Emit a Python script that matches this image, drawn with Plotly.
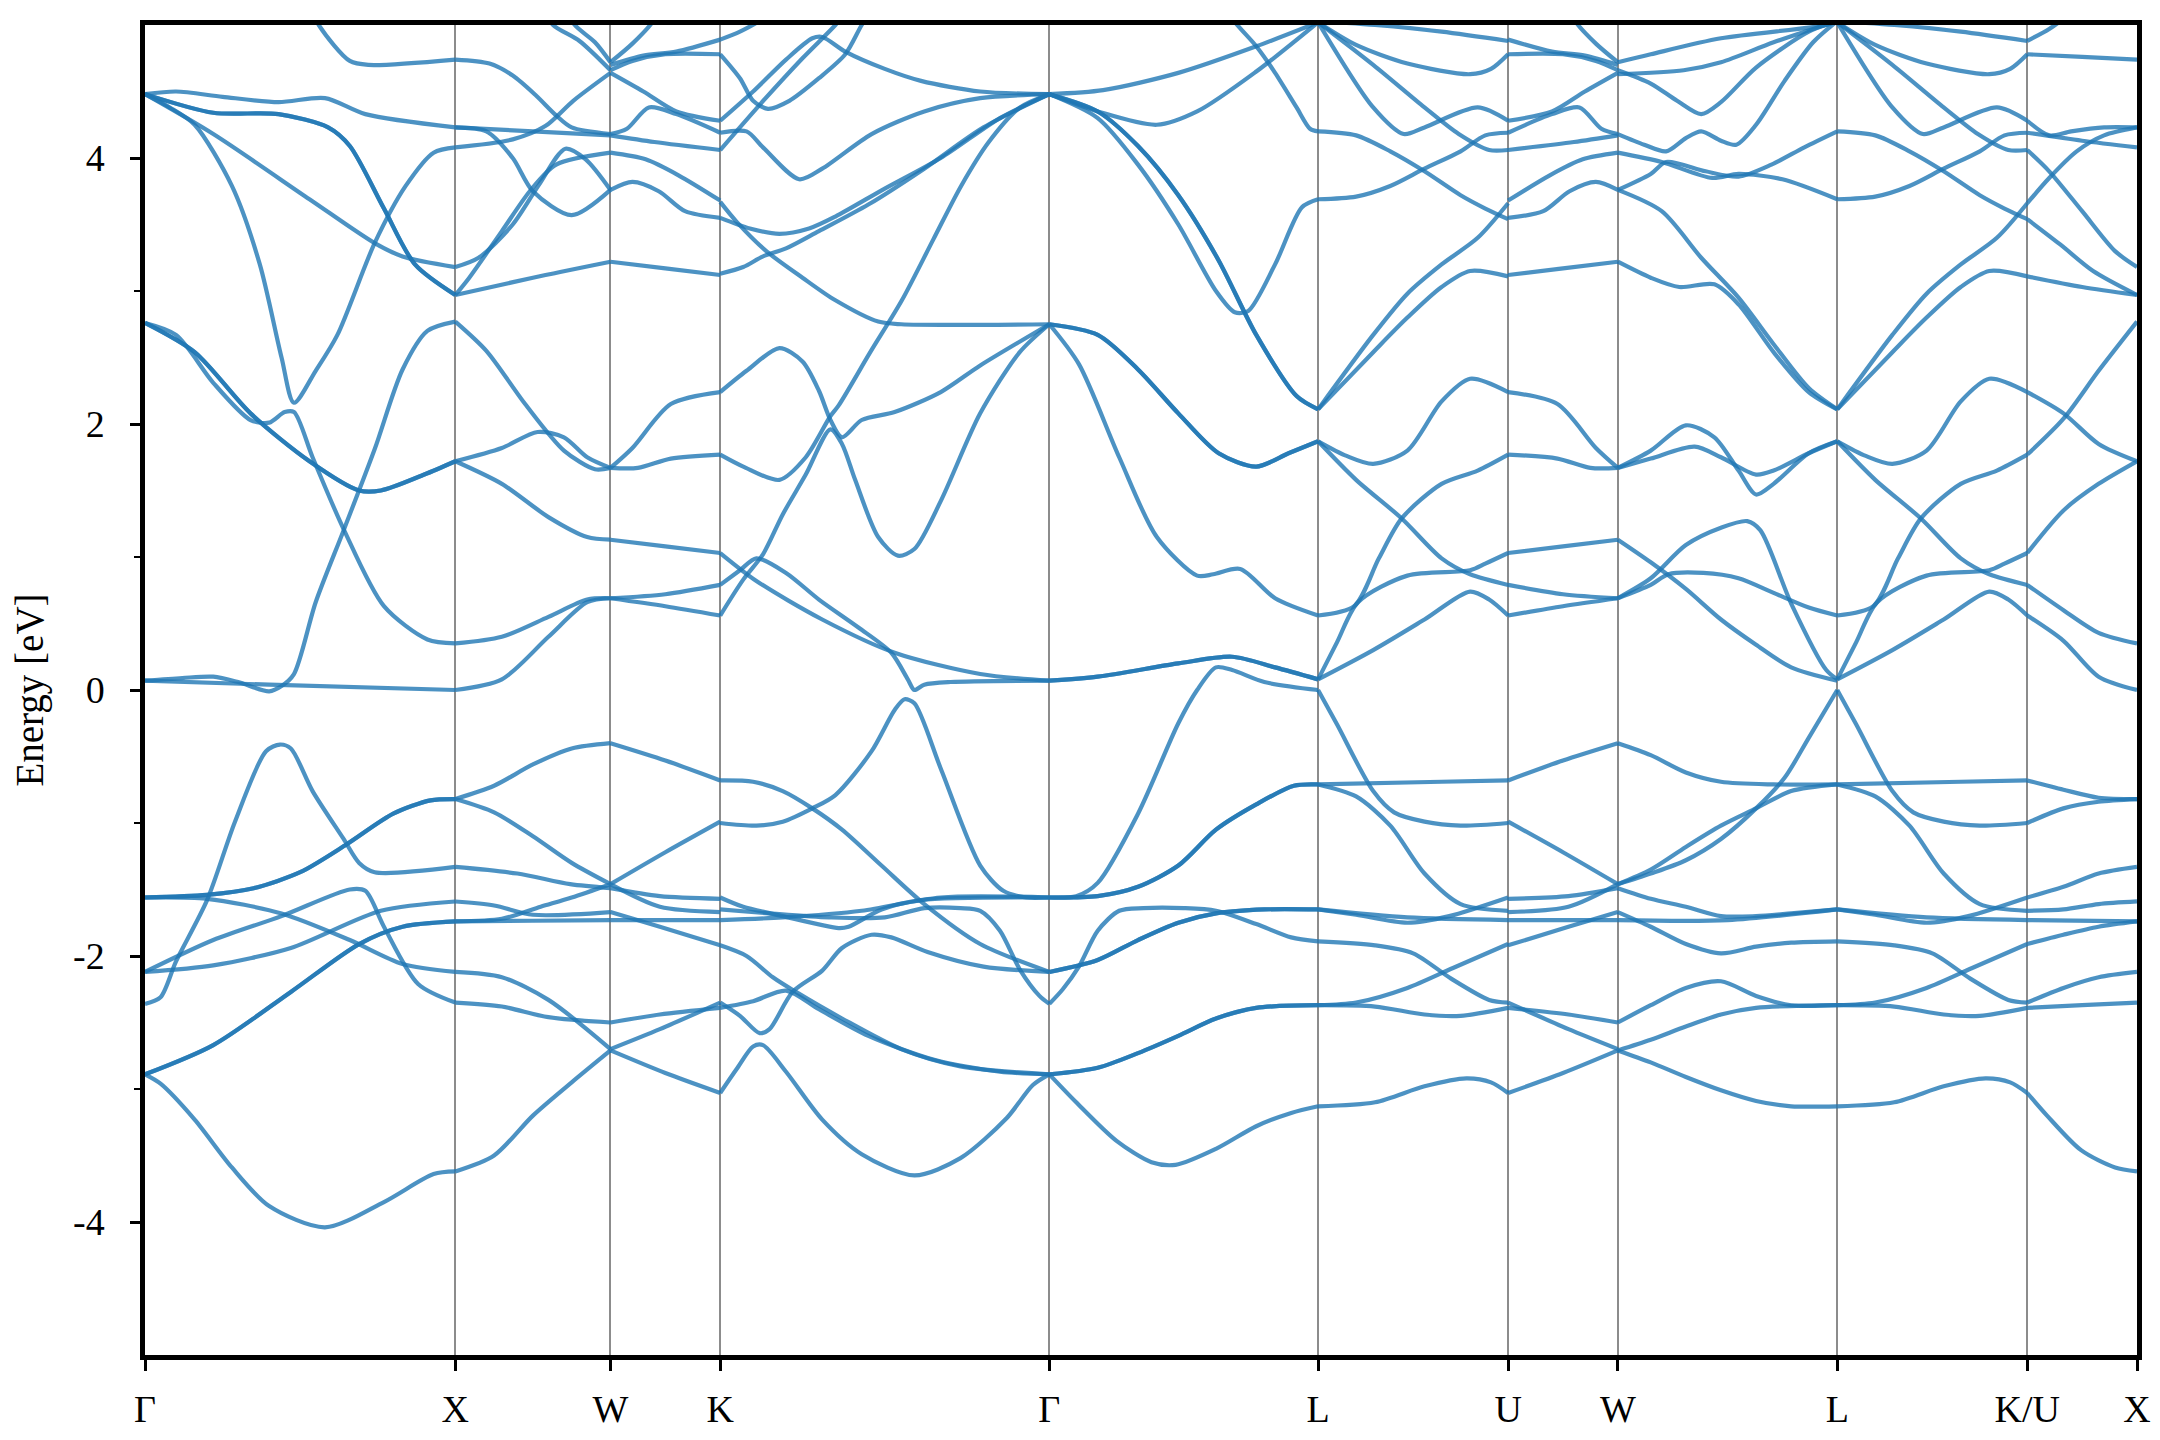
import plotly.graph_objects as go

# ---------------- data ----------------
kpoint_labels = ["Γ", "X", "W", "K", "Γ", "L", "U", "W", "L", "K/U", "X"]
segment_lengths = [1.0, 0.5, 0.35355, 1.06066, 0.86603, 0.61237, 0.35355, 0.70711, 0.61237, 0.35355]
energy_ticks = [-4, -2, 0, 2, 4]
energy_minor_ticks = [-3, -1, 1, 3]

# each entry: (degeneracy, [(fraction along segment, energy eV), ...])
band_GX = [
    (1, [(0.5, 5.3), (0.56, 5.0), (0.66, 4.73), (0.72, 4.70), (1, 4.74)]),
    (1, [(0, 4.48), (0.1, 4.50), (0.25, 4.46), (0.43, 4.42), (0.58, 4.45), (0.71, 4.33), (1, 4.23)]),
    (2, [(0, 4.48), (0.22, 4.34), (0.43, 4.33), (0.59, 4.23), (0.66, 4.09), (0.77, 3.62), (0.87, 3.20), (1, 2.97)]),
    (1, [(0, 4.48), (0.22, 4.18), (0.53, 3.69), (0.74, 3.36), (0.83, 3.26), (1, 3.18)]),
    (1, [(0, 4.48), (0.08, 4.38), (0.16, 4.25), (0.28, 3.79), (0.37, 3.2), (0.44, 2.5), (0.48, 2.16),
         (0.55, 2.4), (0.62, 2.67), (0.74, 3.36), (0.84, 3.79), (0.93, 4.04), (1, 4.08)]),
    (1, [(0, 2.76), (0.1, 2.67), (0.22, 2.31), (0.34, 2.03), (0.4, 2.01), (0.45, 2.09), (0.48, 2.09),
         (0.54, 1.75), (0.64, 1.21), (0.77, 0.63), (0.91, 0.38), (1, 0.35)]),
    (2, [(0, 2.76), (0.16, 2.54), (0.34, 2.08), (0.53, 1.72), (0.69, 1.50), (0.76, 1.50), (0.9, 1.62), (1, 1.72)]),
    (1, [(0, 0.07), (0.12, 0.09), (0.22, 0.1), (0.3, 0.06), (0.4, -0.01), (0.44, 0.03), (0.48, 0.12),
         (0.55, 0.66), (0.64, 1.2), (0.74, 1.81), (0.83, 2.41), (0.91, 2.70), (1, 2.77)]),
    (1, [(0, 0.07), (0.4, 0.04), (1, 0.0)]),
    (1, [(0, -2.89), (0.05, -2.96), (0.16, -3.23), (0.28, -3.59), (0.4, -3.88), (0.58, -4.04),
         (0.77, -3.85), (0.93, -3.64), (1, -3.62)]),
    (2, [(0, -2.89), (0.22, -2.67), (0.47, -2.27), (0.69, -1.91), (0.83, -1.78), (1, -1.74)]),
    (1, [(0, -2.36), (0.05, -2.31), (0.1, -2.04), (0.2, -1.58), (0.29, -0.99), (0.39, -0.46), (0.435, -0.41),
         (0.47, -0.44), (0.54, -0.76), (0.64, -1.12), (0.69, -1.30), (0.74, -1.37), (1, -1.33)]),
    (2, [(0, -1.56), (0.2, -1.54), (0.35, -1.49), (0.5, -1.37), (0.65, -1.16), (0.8, -0.93), (0.92, -0.83), (1, -0.82)]),
    (1, [(0, -1.56), (0.2, -1.57), (0.44, -1.68), (0.66, -1.88), (0.83, -2.06), (1, -2.12)]),
    (1, [(0, -2.12), (0.22, -1.88), (0.44, -1.70), (0.66, -1.50), (0.71, -1.51), (0.77, -1.78), (0.88, -2.21), (1, -2.35)]),
    (1, [(0, -2.12), (0.22, -2.07), (0.47, -1.94), (0.76, -1.66), (1, -1.59)]),
]

band_XW = [
    (1, [(0, 4.74), (0.22, 4.71), (0.37, 4.62), (0.52, 4.47), (0.65, 4.32), (0.75, 4.23), (1, 4.18)]),
    (1, [(0, 4.08), (0.37, 4.14), (0.58, 4.24), (0.76, 4.43), (1, 4.64)]),
    (1, [(0, 4.23), (0.5, 4.2), (1, 4.17)]),
    (1, [(0, 4.23), (0.2, 4.2), (0.37, 4.0), (0.5, 3.75), (0.75, 3.57), (1, 3.76)]),
    (1, [(0, 3.18), (0.15, 3.25), (0.37, 3.5), (0.54, 3.8), (0.71, 4.07), (0.84, 3.99), (1, 3.76)]),
    (1, [(0, 2.97), (0.09, 3.1), (0.3, 3.45), (0.48, 3.75), (0.65, 3.95), (1, 4.04)]),
    (1, [(0, 2.97), (0.5, 3.1), (1, 3.22)]),
    (1, [(0, 2.77), (0.2, 2.55), (0.45, 2.15), (0.7, 1.8), (0.9, 1.66), (1, 1.67)]),
    (1, [(0, 1.72), (0.3, 1.82), (0.53, 1.94), (0.7, 1.9), (0.85, 1.75), (1, 1.67)]),
    (1, [(0, 1.72), (0.3, 1.55), (0.6, 1.3), (0.85, 1.15), (1, 1.13)]),
    (1, [(0, 0.35), (0.3, 0.4), (0.6, 0.55), (0.85, 0.68), (1, 0.69)]),
    (1, [(0, 0.0), (0.3, 0.08), (0.6, 0.4), (0.85, 0.66), (1, 0.69)]),
    (1, [(0.55, 5.15), (0.63, 5.0), (0.8, 4.88), (1, 4.66)]),
    (1, [(0.7, 5.15), (0.77, 5.0), (0.9, 4.87), (1, 4.72)]),
    (1, [(0, -0.82), (0.25, -0.72), (0.5, -0.56), (0.75, -0.44), (1, -0.40)]),
    (1, [(0, -0.82), (0.25, -0.92), (0.5, -1.1), (0.75, -1.3), (1, -1.46)]),
    (1, [(0, -1.33), (0.4, -1.38), (0.74, -1.46), (1, -1.49)]),
    (1, [(0, -1.74), (0.3, -1.72), (0.55, -1.63), (0.75, -1.56), (1, -1.46)]),
    (1, [(0, -1.74), (0.5, -1.735), (1, -1.73)]),
    (1, [(0, -1.59), (0.25, -1.62), (0.5, -1.69), (1, -1.67)]),
    (1, [(0, -2.12), (0.3, -2.16), (0.6, -2.33), (1, -2.70)]),
    (1, [(0, -2.35), (0.3, -2.38), (0.6, -2.46), (1, -2.50)]),
    (1, [(0, -3.62), (0.25, -3.5), (0.5, -3.2), (0.75, -2.95), (1, -2.71)]),
]

band_WK = [
    (1, [(0, 4.72), (0.2, 4.86), (0.38, 5.02), (0.45, 5.15)]),
    (1, [(0, 4.70), (0.3, 4.77), (0.6, 4.8), (1, 4.89)]),
    (1, [(0, 4.66), (0.2, 4.73), (0.5, 4.78), (1, 4.78)]),
    (1, [(0, 4.64), (0.3, 4.5), (0.6, 4.35), (1, 4.28)]),
    (1, [(0, 4.18), (0.15, 4.22), (0.35, 4.38), (0.6, 4.33), (1, 4.19)]),
    (1, [(0, 4.17), (0.4, 4.12), (1, 4.06)]),
    (1, [(0, 4.04), (0.32, 3.99), (0.62, 3.87), (1, 3.68)]),
    (1, [(0, 3.76), (0.2, 3.82), (0.44, 3.75), (0.68, 3.6), (1, 3.55)]),
    (1, [(0, 3.22), (0.5, 3.17), (1, 3.12)]),
    (1, [(0, 1.67), (0.2, 1.82), (0.55, 2.15), (1, 2.24)]),
    (1, [(0, 1.67), (0.25, 1.67), (0.55, 1.74), (1, 1.77)]),
    (1, [(0, 1.13), (0.5, 1.08), (1, 1.03)]),
    (1, [(0, 0.69), (0.5, 0.72), (1, 0.79)]),
    (1, [(0, 0.69), (0.5, 0.63), (1, 0.56)]),
    (1, [(0, -0.40), (0.5, -0.53), (1, -0.68)]),
    (1, [(0, -1.46), (0.5, -1.22), (1, -0.99)]),
    (1, [(0, -1.46), (0.45, -1.63), (1, -1.67)]),
    (1, [(0, -1.49), (0.45, -1.55), (1, -1.57)]),
    (1, [(0, -1.73), (1, -1.73)]),
    (1, [(0, -1.67), (0.45, -1.78), (1, -1.92)]),
    (1, [(0, -2.50), (0.45, -2.44), (1, -2.39)]),
    (1, [(0, -2.70), (0.45, -2.55), (1, -2.35)]),
    (1, [(0, -2.71), (0.5, -2.88), (1, -3.03)]),
]

band_KG = [
    (1, [(0, 4.89), (0.06, 4.95), (0.12, 5.03), (0.2, 5.15)]),
    (1, [(0, 4.78), (0.06, 4.6), (0.1, 4.43), (0.145, 4.37), (0.21, 4.43), (0.3, 4.6), (0.38, 4.78), (0.43, 5.0), (0.47, 5.15)]),
    (1, [(0, 4.28), (0.1, 4.5), (0.2, 4.74), (0.28, 4.9), (0.31, 4.91), (0.38, 4.8), (0.5, 4.67), (0.61, 4.58), (0.79, 4.5), (1, 4.48)]),
    (1, [(0, 4.19), (0.08, 4.2), (0.13, 4.08), (0.24, 3.84), (0.31, 3.92), (0.46, 4.18), (0.62, 4.35), (0.79, 4.45), (1, 4.48)]),
    (1, [(0, 4.06), (0.12, 4.4), (0.25, 4.75), (0.35, 5.0), (0.4, 5.15)]),
    (1, [(0, 3.67), (0.05, 3.52), (0.14, 3.3), (0.25, 3.1), (0.35, 2.93), (0.48, 2.77), (0.55, 2.75), (1, 2.75)]),
    (1, [(0, 3.55), (0.09, 3.47), (0.18, 3.43), (0.27, 3.47), (0.35, 3.56), (0.5, 3.77), (0.67, 4.0), (0.85, 4.3), (1, 4.48)]),
    (1, [(0, 3.13), (0.07, 3.18), (0.13, 3.26), (0.2, 3.32), (0.3, 3.45), (0.45, 3.65), (0.62, 3.92), (0.8, 4.23), (1, 4.48)]),
    (1, [(0, 2.24), (0.08, 2.4), (0.18, 2.57), (0.25, 2.47), (0.3, 2.25), (0.335, 2.03), (0.37, 1.9), (0.43, 2.03),
         (0.53, 2.09), (0.67, 2.24), (0.79, 2.44), (1, 2.75)]),
    (1, [(0, 1.77), (0.07, 1.68), (0.18, 1.58), (0.26, 1.75), (0.335, 2.06), (0.36, 2.14), (0.456, 2.54), (0.552, 2.93),
         (0.648, 3.39), (0.732, 3.79), (0.816, 4.12), (0.911, 4.38), (1, 4.48)]),
    (1, [(0, 0.56), (0.07, 0.83), (0.13, 1.02), (0.19, 1.32), (0.26, 1.62), (0.335, 1.96), (0.37, 1.85), (0.41, 1.58),
         (0.48, 1.15), (0.54, 1.01), (0.59, 1.06), (0.67, 1.42), (0.79, 2.08), (0.91, 2.54), (1, 2.75)]),
    (1, [(0, 1.03), (0.11, 0.82), (0.31, 0.53), (0.53, 0.28), (0.79, 0.12), (1, 0.07)]),
    (1, [(0, 0.79), (0.06, 0.9), (0.11, 0.99), (0.2, 0.88), (0.3, 0.68), (0.42, 0.47), (0.52, 0.28), (0.57, 0.08),
         (0.59, 0.0), (0.62, 0.04), (0.7, 0.06), (1, 0.07)]),
    (1, [(0, -0.68), (0.1, -0.69), (0.19, -0.76), (0.28, -0.89), (0.37, -1.05), (0.49, -1.32), (0.62, -1.61), (0.79, -1.91), (1, -2.12)]),
    (1, [(0, -1.0), (0.11, -1.02), (0.19, -0.99), (0.28, -0.89), (0.35, -0.79), (0.46, -0.46), (0.53, -0.15), (0.56, -0.07),
         (0.59, -0.10), (0.67, -0.59), (0.79, -1.32), (0.86, -1.51), (0.93, -1.56), (1, -1.56)]),
    (1, [(0, -1.56), (0.07, -1.63), (0.19, -1.70), (0.36, -1.79), (0.39, -1.78), (0.49, -1.65), (0.61, -1.58), (1, -1.56)]),
    (1, [(0, -1.65), (0.15, -1.68), (0.33, -1.71), (0.5, -1.71), (0.62, -1.64), (0.73, -1.64), (0.79, -1.66), (0.85, -1.81),
         (0.91, -2.1), (0.97, -2.3), (1, -2.36)]),
    (1, [(0, -1.73), (0.19, -1.71), (0.43, -1.66), (0.67, -1.56), (1, -1.56)]),
    (1, [(0, -1.92), (0.08, -2.0), (0.16, -2.16), (0.23, -2.27), (0.37, -2.47), (0.55, -2.70), (0.73, -2.83), (1, -2.89)]),
    (1, [(0, -2.39), (0.1, -2.34), (0.2, -2.26), (0.3, -2.4), (0.45, -2.6), (0.65, -2.78), (0.85, -2.87), (1, -2.89)]),
    (1, [(0, -2.35), (0.06, -2.45), (0.12, -2.58), (0.15, -2.55), (0.22, -2.27), (0.31, -2.11), (0.37, -1.94), (0.46, -1.84),
         (0.52, -1.86), (0.63, -1.97), (0.8, -2.08), (1, -2.12)]),
    (1, [(0, -3.03), (0.05, -2.85), (0.1, -2.68), (0.13, -2.67), (0.2, -2.87), (0.31, -3.23), (0.43, -3.49), (0.59, -3.65),
         (0.73, -3.52), (0.87, -3.22), (0.95, -2.97), (1, -2.89)]),
]

band_GL = [
    (1, [(0, 4.48), (0.2, 4.51), (0.48, 4.64), (0.77, 4.84), (1, 5.02)]),
    (1, [(0, 4.48), (0.18, 4.35), (0.4, 4.25), (0.55, 4.35), (0.77, 4.65), (1, 5.02)]),
    (2, [(0, 4.48), (0.18, 4.35), (0.33, 4.09), (0.48, 3.72), (0.63, 3.23), (0.77, 2.67), (0.92, 2.21), (1, 2.11)]),
    (1, [(0, 4.48), (0.18, 4.3), (0.33, 3.95), (0.48, 3.5), (0.62, 3.0), (0.69, 2.84), (0.74, 2.85), (0.84, 3.2), (0.94, 3.63), (1, 3.69)]),
    (1, [(0.66, 5.15), (0.68, 5.05), (0.77, 4.84), (0.84, 4.64), (0.92, 4.38), (0.97, 4.22), (1, 4.2)]),
    (2, [(0, 2.75), (0.18, 2.67), (0.33, 2.41), (0.48, 2.08), (0.63, 1.78), (0.77, 1.68), (0.89, 1.78), (1, 1.87)]),
    (1, [(0, 2.75), (0.11, 2.45), (0.26, 1.75), (0.4, 1.15), (0.55, 0.86), (0.61, 0.87), (0.71, 0.91), (0.84, 0.69), (1, 0.56)]),
    (2, [(0, 0.07), (0.18, 0.1), (0.48, 0.2), (0.68, 0.25), (0.84, 0.17), (1, 0.08)]),
    (1, [(0, -1.56), (0.1, -1.55), (0.18, -1.45), (0.33, -0.93), (0.48, -0.25), (0.55, 0.0), (0.62, 0.17), (0.68, 0.15), (0.8, 0.06), (1, 0.0)]),
    (2, [(0, -1.56), (0.18, -1.55), (0.33, -1.48), (0.48, -1.32), (0.62, -1.05), (0.77, -0.86), (0.91, -0.72), (1, -0.71)]),
    (1, [(0, -2.36), (0.05, -2.25), (0.11, -2.08), (0.18, -1.81), (0.26, -1.66), (0.35, -1.64), (0.5, -1.64), (0.62, -1.66),
         (0.77, -1.76), (0.9, -1.86), (1, -1.89)]),
    (2, [(0, -2.12), (0.18, -2.03), (0.33, -1.88), (0.48, -1.75), (0.62, -1.68), (0.8, -1.65), (1, -1.65)]),
    (2, [(0, -2.89), (0.18, -2.84), (0.33, -2.73), (0.48, -2.6), (0.62, -2.47), (0.77, -2.39), (1, -2.37)]),
    (1, [(0, -2.89), (0.1, -3.1), (0.25, -3.39), (0.38, -3.55), (0.47, -3.57), (0.62, -3.45), (0.77, -3.28), (0.9, -3.18), (1, -3.13)]),
]

band_LU = [
    (1, [(0, 5.03), (0.3, 5.0), (0.65, 4.95), (1, 4.88)]),
    (1, [(0, 5.02), (0.2, 4.85), (0.47, 4.71), (0.8, 4.63), (0.91, 4.67), (1, 4.78)]),
    (1, [(0, 5.02), (0.29, 4.7), (0.56, 4.38), (0.74, 4.18), (0.9, 4.06), (1, 4.06)]),
    (1, [(0, 5.02), (0.29, 4.38), (0.45, 4.18), (0.56, 4.23), (0.84, 4.38), (1, 4.28)]),
    (1, [(0, 4.2), (0.2, 4.17), (0.38, 4.05), (0.56, 3.9), (0.75, 3.72), (0.88, 3.62), (1, 3.54)]),
    (1, [(0, 3.69), (0.2, 3.71), (0.38, 3.79), (0.56, 3.92), (0.75, 4.05), (0.88, 4.17), (1, 4.19)]),
    (1, [(0, 2.11), (0.29, 2.67), (0.47, 2.98), (0.65, 3.2), (0.84, 3.4), (1, 3.66)]),
    (1, [(0, 2.11), (0.29, 2.54), (0.47, 2.8), (0.65, 3.03), (0.8, 3.15), (1, 3.11)]),
    (1, [(0, 1.87), (0.15, 1.76), (0.29, 1.70), (0.47, 1.80), (0.65, 2.17), (0.8, 2.34), (1, 2.24)]),
    (1, [(0, 1.87), (0.2, 1.58), (0.44, 1.29), (0.65, 0.99), (0.8, 0.87), (1, 0.79)]),
    (1, [(0, 0.56), (0.19, 0.63), (0.32, 0.99), (0.44, 1.29), (0.65, 1.55), (0.84, 1.65), (1, 1.77)]),
    (1, [(0, 0.08), (0.1, 0.36), (0.21, 0.66), (0.47, 0.86), (0.8, 0.9), (0.88, 0.95), (1, 1.03)]),
    (1, [(0, 0.08), (0.29, 0.3), (0.56, 0.53), (0.8, 0.74), (0.9, 0.68), (1, 0.56)]),
    (1, [(0, 0.0), (0.1, -0.26), (0.29, -0.76), (0.4, -0.92), (0.56, -0.99), (0.75, -1.02), (1, -1.0)]),
    (1, [(0, -0.71), (0.65, -0.69), (1, -0.68)]),
    (1, [(0, -0.71), (0.2, -0.8), (0.38, -1.02), (0.56, -1.38), (0.75, -1.61), (1, -1.66)]),
    (1, [(0, -1.65), (0.2, -1.69), (0.47, -1.75), (0.69, -1.70), (1, -1.56)]),
    (1, [(0, -1.65), (0.47, -1.71), (1, -1.73)]),
    (1, [(0, -1.89), (0.3, -1.92), (0.5, -1.98), (0.7, -2.17), (0.9, -2.33), (1, -2.35)]),
    (1, [(0, -2.37), (0.3, -2.38), (0.56, -2.44), (0.75, -2.45), (1, -2.39)]),
    (1, [(0, -2.37), (0.2, -2.35), (0.47, -2.24), (0.71, -2.09), (1, -1.91)]),
    (1, [(0, -3.13), (0.3, -3.1), (0.56, -2.98), (0.78, -2.92), (0.91, -2.95), (1, -3.03)]),
]

band_WL = [
    (1, [(0, 4.72), (0.15, 4.78), (0.47, 4.9), (0.95, 5.0), (1, 5.03)]),
    (1, [(0, 4.63), (0.3, 4.66), (0.47, 4.72), (0.71, 4.87), (1, 5.03)]),
    (1, [(0, 4.66), (0.15, 4.56), (0.27, 4.43), (0.38, 4.33), (0.47, 4.42), (0.63, 4.68), (0.87, 4.95), (1, 5.03)]),
    (1, [(0, 4.18), (0.12, 4.1), (0.22, 4.05), (0.31, 4.15), (0.38, 4.2), (0.47, 4.13), (0.54, 4.1), (0.63, 4.25),
         (0.76, 4.58), (0.89, 4.87), (1, 5.03)]),
    (1, [(0, 4.04), (0.2, 3.97), (0.43, 3.85), (0.55, 3.88), (0.75, 3.84), (1, 3.69)]),
    (1, [(0, 3.76), (0.15, 3.88), (0.22, 3.97), (0.4, 3.9), (0.55, 3.86), (0.7, 3.95), (0.85, 4.08), (1, 4.2)]),
    (1, [(0, 3.22), (0.15, 3.1), (0.28, 3.03), (0.44, 3.05), (0.55, 2.9), (0.71, 2.54), (0.87, 2.24), (1, 2.11)]),
    (1, [(0, 3.76), (0.2, 3.6), (0.38, 3.25), (0.55, 2.95), (0.71, 2.6), (0.87, 2.27), (1, 2.11)]),
    (1, [(0, 1.67), (0.15, 1.8), (0.31, 1.99), (0.44, 1.9), (0.55, 1.65), (0.63, 1.47), (0.71, 1.55), (0.87, 1.78), (1, 1.87)]),
    (1, [(0, 1.67), (0.15, 1.74), (0.35, 1.83), (0.47, 1.75), (0.63, 1.62), (0.71, 1.65), (0.87, 1.78), (1, 1.87)]),
    (1, [(0, 0.69), (0.15, 0.84), (0.31, 1.09), (0.47, 1.22), (0.59, 1.27), (0.65, 1.2), (0.79, 0.65), (0.95, 0.15), (1, 0.08)]),
    (1, [(0, 0.69), (0.15, 0.79), (0.23, 0.87), (0.39, 0.88), (0.55, 0.84), (0.71, 0.73), (0.87, 0.62), (1, 0.56)]),
    (1, [(0, 1.13), (0.15, 0.96), (0.31, 0.76), (0.47, 0.53), (0.63, 0.34), (0.79, 0.17), (1, 0.07)]),
    (1, [(0, -1.46), (0.15, -1.38), (0.31, -1.28), (0.47, -1.12), (0.63, -0.89), (0.76, -0.66), (0.87, -0.36), (1, 0.0)]),
    (1, [(0, -0.40), (0.15, -0.49), (0.31, -0.62), (0.47, -0.69), (0.71, -0.71), (1, -0.71)]),
    (1, [(0, -1.46), (0.15, -1.35), (0.31, -1.18), (0.47, -1.02), (0.63, -0.89), (0.79, -0.76), (1, -0.71)]),
    (1, [(0, -1.49), (0.15, -1.57), (0.31, -1.63), (0.47, -1.7), (0.63, -1.7), (0.79, -1.68), (1, -1.65)]),
    (1, [(0, -1.73), (0.5, -1.73), (1, -1.65)]),
    (1, [(0, -1.67), (0.15, -1.78), (0.31, -1.91), (0.47, -1.98), (0.63, -1.93), (0.79, -1.9), (1, -1.89)]),
    (1, [(0, -2.50), (0.15, -2.37), (0.31, -2.24), (0.47, -2.19), (0.63, -2.3), (0.79, -2.37), (1, -2.37)]),
    (1, [(0, -2.71), (0.15, -2.63), (0.31, -2.53), (0.47, -2.44), (0.63, -2.39), (1, -2.37)]),
    (1, [(0, -2.71), (0.15, -2.8), (0.31, -2.91), (0.47, -3.01), (0.63, -3.09), (0.79, -3.13), (1, -3.13)]),
]

band_UX = [
    (1, [(0, 4.88), (0.2, 4.97), (0.3, 5.03), (0.4, 5.12)]),
    (1, [(0, 4.78), (0.5, 4.76), (1, 4.74)]),
    (1, [(0, 4.28), (0.2, 4.17), (0.4, 4.2), (0.7, 4.23), (1, 4.23)]),
    (1, [(0, 4.19), (0.5, 4.13), (1, 4.08)]),
    (1, [(0, 3.66), (0.2, 3.85), (0.45, 4.05), (0.7, 4.17), (1, 4.23)]),
    (1, [(0, 4.06), (0.2, 3.9), (0.5, 3.6), (0.8, 3.3), (1, 3.18)]),
    (1, [(0, 3.54), (0.3, 3.35), (0.6, 3.15), (1, 2.97)]),
    (1, [(0, 3.11), (0.5, 3.03), (1, 2.97)]),
    (1, [(0, 2.24), (0.33, 2.08), (0.65, 1.85), (1, 1.72)]),
    (1, [(0, 1.77), (0.33, 2.04), (0.65, 2.4), (1, 2.77)]),
    (1, [(0, 1.03), (0.33, 1.35), (0.65, 1.55), (1, 1.72)]),
    (1, [(0, 0.79), (0.33, 0.6), (0.65, 0.43), (1, 0.35)]),
    (1, [(0, 0.56), (0.33, 0.37), (0.65, 0.1), (1, 0.0)]),
    (1, [(0, -0.68), (0.33, -0.75), (0.65, -0.81), (1, -0.82)]),
    (1, [(0, -1.0), (0.33, -0.89), (0.65, -0.84), (1, -0.82)]),
    (1, [(0, -1.56), (0.33, -1.48), (0.65, -1.38), (1, -1.33)]),
    (1, [(0, -1.66), (0.33, -1.65), (0.65, -1.61), (1, -1.59)]),
    (1, [(0, -1.73), (1, -1.74)]),
    (1, [(0, -1.91), (0.33, -1.84), (0.65, -1.78), (1, -1.74)]),
    (1, [(0, -2.35), (0.33, -2.24), (0.65, -2.16), (1, -2.12)]),
    (1, [(0, -2.39), (0.5, -2.37), (1, -2.35)]),
    (1, [(0, -3.03), (0.18, -3.2), (0.49, -3.46), (0.8, -3.59), (1, -3.62)]),
]


def reversed_segment(seg):
    return [(m, [(1 - f, e) for f, e in reversed(pts)]) for m, pts in seg]


# U-W is symmetry-equivalent to W-K (traversed backwards); L-K is equivalent to L-U
segments = [band_GX, band_XW, band_WK, band_KG, band_GL, band_LU,
            reversed_segment(band_WK), band_WL, band_LU, band_UX]

kpos = [0.0]
for length in segment_lengths:
    kpos.append(kpos[-1] + length)

# ---------------- figure ----------------
fig = go.Figure()
line_style = dict(color="rgba(31,119,180,0.8)", width=4.2, shape="spline", smoothing=0.8)
for s, seg in enumerate(segments):
    k0, length = kpos[s], segment_lengths[s]
    for mult, pts in seg:
        xs = [k0 + f * length for f, e in pts]
        ys = [e for f, e in pts]
        for _ in range(mult):
            fig.add_trace(go.Scatter(x=xs, y=ys, mode="lines", line=line_style,
                                     hoverinfo="skip", showlegend=False))

fig.update_layout(
    width=2160, height=1440,
    margin=dict(l=132, r=31, t=14, b=93),
    plot_bgcolor="white", paper_bgcolor="white",
    font=dict(family="Liberation Serif", size=38, color="black"),
    showlegend=False,
)
fig.update_xaxes(
    range=[kpos[0], kpos[-1]], tickvals=kpos, ticktext=kpoint_labels,
    ticks="outside", ticklen=11, tickwidth=3, tickcolor="black",
    showgrid=True, gridcolor="rgba(0,0,0,0.45)", gridwidth=2,
    showline=True, linecolor="black", linewidth=4.5, mirror=True, zeroline=False,
    ticklabelstandoff=6,
)
fig.update_yaxes(
    range=[-5, 5], tickvals=energy_ticks, ticktext=[str(v) for v in energy_ticks],
    ticks="outside", ticklen=10, tickwidth=3, tickcolor="black",
    minor=dict(tickvals=energy_minor_ticks, ticks="outside", ticklen=6, tickwidth=2, tickcolor="black"),
    showgrid=False, zeroline=False,
    showline=True, linecolor="black", linewidth=4.5, mirror=True,
    title=dict(text="Energy [eV]", standoff=26, font=dict(size=39)),
    ticklabelstandoff=18,
)

fig.write_html("out.html")
